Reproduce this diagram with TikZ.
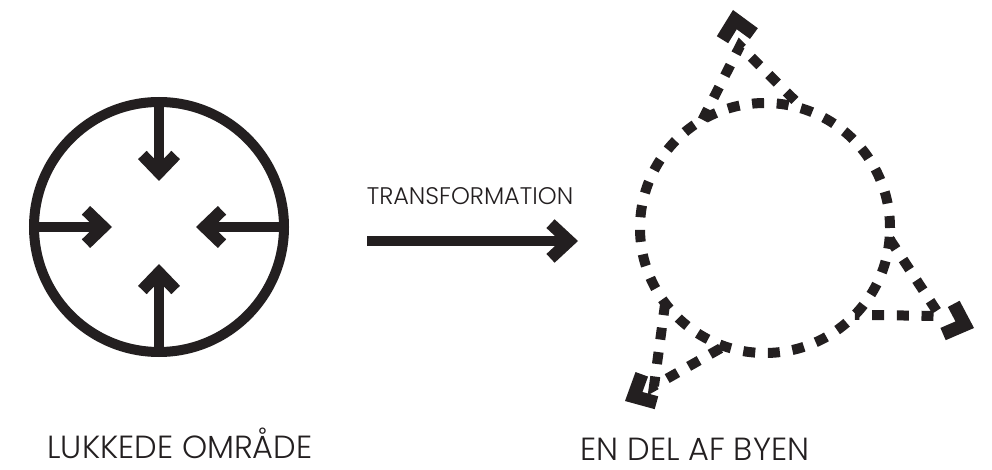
\documentclass[tikz,border=0pt]{standalone}
\usepackage{fontspec}
\setmainfont{Poppins Light}
\usetikzlibrary{arrows.meta}
\usetikzlibrary{positioning}
\definecolor{ink}{HTML}{231F20}

\tikzset{
  ringline/.style={draw=ink,line width=7.5pt,circle,inner sep=0pt,outer sep=0pt,minimum size=187.5pt},
  pusharrow/.style={draw=ink,line width=7.5pt,-{Straight Barb[sharp,length=13pt,width=25pt,line width=9pt]}},
  bigarrow/.style={draw=ink,line width=7.5pt,-{Straight Barb[sharp,length=14pt,width=26pt,line width=9pt]}},
  dashline/.style={draw=ink,line width=7.5pt,dash pattern=on 9pt off 9.5pt},
  headonly/.style={draw=ink,line width=7pt,dash pattern=on 0pt off 200pt,-{Straight Barb[sharp,length=13pt,width=24pt,line width=10pt]}},
  caption/.style={text=ink,font=\fontsize{24}{28}\selectfont,anchor=base,inner sep=0pt},
}

\begin{document}
\begin{tikzpicture}[x=0.75pt,y=-0.75pt]
\useasboundingbox (0,0) rectangle (992,470);

% lukket ring
\node[ringline] (ring) at (159,227) {};
\coordinate (pn) at (159,181);
\coordinate (ps) at (159,264);
\coordinate (pw) at (112,227);
\coordinate (pe) at (196,227);
\draw[pusharrow] (ring.north) -- (pn);
\draw[pusharrow] (ring.south) -- (ps);
\draw[pusharrow] (ring.west) -- (pw);
\draw[pusharrow] (ring.east) -- (pe);

% transformation
\coordinate (tfrom) at (367,241);
\coordinate (tto) at (578,241);
\draw[bigarrow] (tfrom) -- (tto);
\node[text=ink,font=\fontsize{18}{21}\selectfont,anchor=base] (tlabel) at (470,205) {TRANSFORMATION};

% aaben ring
\node[ringline,dash pattern=on 9pt off 9.5pt] (open) at (765,228) {};
\coordinate (jtop) at (740,46);
\coordinate (atop) at (733,10);
\coordinate (jright) at (940,316);
\coordinate (aright) at (974,328);
\coordinate (jleft) at (654,386);
\coordinate (aleft) at (625,401);
\draw[dashline] (open.120) -- (jtop) -- (open.72);
\draw[dashline] (open.-5) -- (jright) -- (open.-44);
\draw[dashline] (open.217) -- (jleft) -- (open.251);
\draw[headonly] (jtop) -- (atop);
\draw[headonly] (jright) -- (aright);
\draw[headonly] (jleft) -- (aleft);

\node[caption] (leftcap) at (180,458) {LUKKEDE OMRÅDE};
\node[caption] (rightcap) at (695,460) {EN DEL AF BYEN};
\end{tikzpicture}
\end{document}
